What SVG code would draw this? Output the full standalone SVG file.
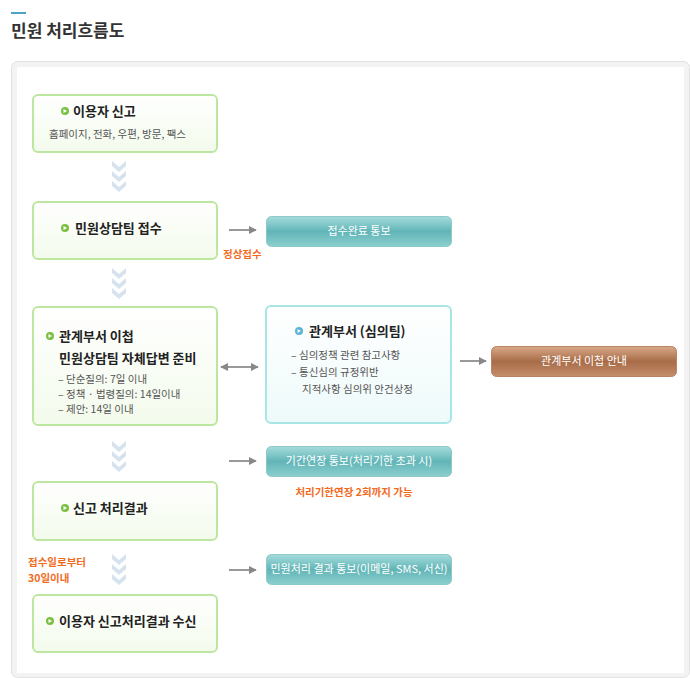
<svg xmlns="http://www.w3.org/2000/svg" width="690" height="678" viewBox="0 0 690 678">
<style>
text{font-family:"Noto Sans CJK KR","Liberation Sans",sans-serif}
.g{fill:url(#gg);stroke:#bde6a0;stroke-width:2}
.t{font-size:13px;font-weight:bold;fill:#222}
.s{font-size:10.5px;fill:#555}
.o{font-size:10.5px;fill:#f26b1d;font-weight:bold}
.w{font-size:11px;fill:#fff;text-anchor:middle}
.b{fill:url(#tg);stroke:#8cc9c9}
.ar{stroke:#999;stroke-width:2;fill:none}
</style>
<defs>
<linearGradient id="gg" x1="0" y1="0" x2="0" y2="1"><stop offset="0" stop-color="#fff"/><stop offset="1" stop-color="#f3fbec"/></linearGradient>
<linearGradient id="cg" x1="0" y1="0" x2="0" y2="1"><stop offset="0" stop-color="#fff"/><stop offset="1" stop-color="#eefafa"/></linearGradient>
<linearGradient id="tg" x1="0" y1="0" x2="0" y2="1"><stop offset="0" stop-color="#a6dcdc"/><stop offset="0.5" stop-color="#62b5b7"/><stop offset="1" stop-color="#8ccfcf"/></linearGradient>
<linearGradient id="bg" x1="0" y1="0" x2="0" y2="1"><stop offset="0" stop-color="#d9a989"/><stop offset="0.5" stop-color="#a86c48"/><stop offset="1" stop-color="#c48e6c"/></linearGradient>
<marker id="ah" viewBox="0 0 10 10" refX="9" refY="5" markerWidth="4" markerHeight="4" orient="auto-start-reverse"><path d="M0,0L10,5L0,10z" fill="#888"/></marker>
<g id="chev"><path d="M-7,0L0,6L7,0V5L0,11L-7,5z M-7,10L0,16L7,10V15L0,21L-7,15z M-7,20L0,26L7,20V25L0,31L-7,25z" fill="#d6e3ef"/></g>
<g id="dot"><circle r="4" fill="#7bc043"/><path d="M-1.5,-2L2,0L-1.5,2z" fill="#fff"/></g>
</defs>
<rect x="11" y="12" width="15" height="2" fill="#4ba3c7"/>
<text x="11" y="37" font-size="17" font-weight="bold" fill="#333">민원 처리흐름도</text>
<rect x="11.5" y="61.5" width="678" height="616" rx="6" fill="#f3f3f3" stroke="#e2e2e2"/>
<rect x="17" y="67" width="667" height="606" fill="#fff"/>

<g id="connectors">
<use href="#chev" x="119" y="161"/>
<use href="#chev" x="119" y="268"/>
<use href="#chev" x="119" y="441"/>
<use href="#chev" x="119" y="554"/>
<line class="ar" x1="229" y1="230" x2="256" y2="230" marker-end="url(#ah)"/>
<line class="ar" x1="229" y1="461" x2="256" y2="461" marker-end="url(#ah)"/>
<line class="ar" x1="229" y1="570" x2="256" y2="570" marker-end="url(#ah)"/>
<line class="ar" x1="460" y1="361" x2="486" y2="361" marker-end="url(#ah)"/>
<line class="ar" x1="221" y1="367" x2="258" y2="367" marker-start="url(#ah)" marker-end="url(#ah)"/>
</g>

<g id="n1"><rect class="g" x="33" y="95" width="184" height="57" rx="5"/><use href="#dot" x="65" y="111"/><text class="t" x="73" y="116">이용자 신고</text><text class="s" x="49" y="138">홈페이지, 전화, 우편, 방문, 팩스</text></g>
<g id="n2"><rect class="g" x="33" y="202" width="184" height="57" rx="5"/><use href="#dot" x="65" y="228"/><text class="t" x="75" y="233">민원상담팀 접수</text></g>
<g id="n3"><rect class="g" x="33" y="307" width="184" height="118" rx="5"/><use href="#dot" x="50" y="336"/><text class="t" x="59" y="341">관계부서 이첩</text><text class="t" x="59" y="363" font-size="12">민원상담팀 자체답변 준비</text>
<text class="s" x="58" y="383">– 단순질의: 7일 이내</text><text class="s" x="58" y="398">– 정책 · 법령질의: 14일이내</text><text class="s" x="58" y="413">– 제안: 14일 이내</text></g>
<g id="n4"><rect class="g" x="33" y="482" width="184" height="58" rx="5"/><use href="#dot" x="65" y="508"/><text class="t" x="73" y="513">신고 처리결과</text></g>
<g id="n5"><rect class="g" x="33" y="595" width="184" height="57" rx="5"/><use href="#dot" x="50" y="621"/><text class="t" x="59" y="626">이용자 신고처리결과 수신</text></g>
<g id="n6"><rect x="266" y="306" width="185" height="117" rx="5" fill="url(#cg)" stroke="#a8e6e6" stroke-width="2"/><circle cx="299" cy="331" r="4" fill="#5ab4d6"/><path d="M297.5,329L301,331L297.5,333z" fill="#fff"/><text class="t" x="309" y="336">관계부서 (심의팀)</text>
<text class="s" x="291" y="359">– 심의정책 관련 참고사항</text><text class="s" x="291" y="376">– 통신심의 규정위반</text><text class="s" x="302" y="393">지적사항 심의위 안건상정</text></g>
<g id="b1"><rect class="b" x="266.5" y="216.5" width="185" height="30" rx="5"/><text class="w" x="359" y="235">접수완료 통보</text></g>
<g id="b2"><rect class="b" x="266.5" y="446.5" width="185" height="30" rx="5"/><text class="w" x="359" y="465">기간연장 통보(처리기한 초과 시)</text></g>
<g id="b3"><rect class="b" x="266.5" y="554.5" width="185" height="30" rx="5"/><text class="w" x="359" y="573">민원처리 결과 통보(이메일, SMS, 서신)</text></g>
<g id="b4"><rect x="491.5" y="346.5" width="185" height="30" rx="5" fill="url(#bg)" stroke="#b88464"/><text class="w" x="584" y="365">관계부서 이첩 안내</text></g>
<text class="o" x="223" y="258">정상접수</text>
<text class="o" x="354" y="496" text-anchor="middle">처리기한연장 2회까지 가능</text>
<text class="o" x="28" y="566">접수일로부터</text>
<text class="o" x="28" y="582">30일이내</text>
</svg>
